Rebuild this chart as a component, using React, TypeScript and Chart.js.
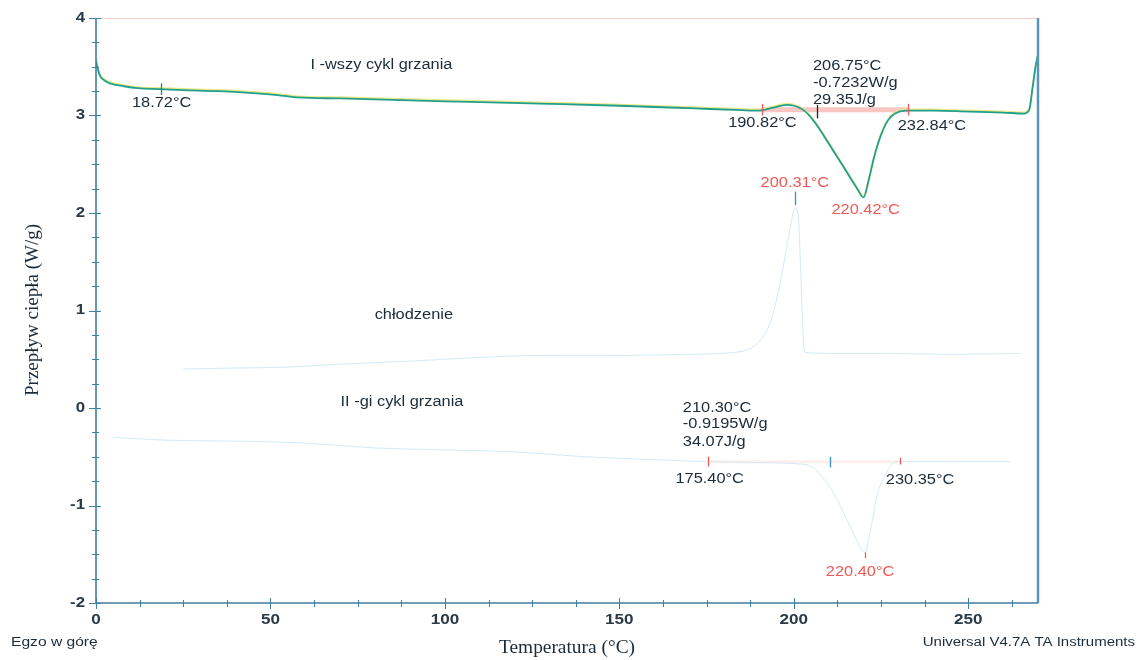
import React, { useEffect, useRef } from 'react';
import { Chart, registerables } from 'chart.js';
Chart.register(...registerables);

// First heating cycle (I-wszy cykl grzania)
const heat1T = [0, 0.5, 1, 2, 4, 8, 12, 18, 25, 35, 45, 52, 58, 70, 85, 100, 113, 130, 150, 170, 185, 190, 194, 198, 200, 203, 206, 209, 212, 215, 218, 220, 221.5, 223, 225, 227, 229, 232, 240, 250, 260, 266, 267.5, 268.5, 269.3, 270];
const heat1W = [3.56, 3.48, 3.42, 3.37, 3.33, 3.30, 3.28, 3.27, 3.26, 3.25, 3.23, 3.21, 3.185, 3.175, 3.16, 3.145, 3.135, 3.12, 3.10, 3.075, 3.055, 3.05, 3.08, 3.11, 3.10, 3.05, 2.93, 2.77, 2.60, 2.43, 2.26, 2.16, 2.34, 2.57, 2.80, 2.95, 3.02, 3.05, 3.05, 3.04, 3.03, 3.02, 3.06, 3.3, 3.5, 3.62];

// Cooling (chłodzenie)
const coolT = [25, 40, 55, 70, 90, 110, 130, 150, 170, 183, 188, 191, 193, 195, 197, 199, 200.3, 201.2, 202, 202.6, 203.2, 210, 225, 245, 265];
const coolW = [0.40, 0.41, 0.42, 0.45, 0.48, 0.52, 0.54, 0.54, 0.55, 0.57, 0.62, 0.72, 0.85, 1.1, 1.45, 1.85, 2.05, 2.0, 1.4, 0.8, 0.57, 0.56, 0.56, 0.55, 0.56];

// Second heating cycle (II-gi cykl grzania)
const heat2T = [5, 20, 40, 60, 80, 100, 120, 140, 160, 175, 190, 200, 205, 208, 211, 214, 217, 220.4, 222, 224, 226, 228, 230, 245, 262];
const heat2W = [-0.30, -0.33, -0.34, -0.36, -0.41, -0.43, -0.45, -0.50, -0.53, -0.55, -0.56, -0.57, -0.60, -0.70, -0.85, -1.05, -1.28, -1.48, -1.25, -0.88, -0.70, -0.58, -0.55, -0.55, -0.55];

// Axis ticks
const xTicks = [0, 50, 100, 150, 200, 250];
const yTicks = [-2, -1, 0, 1, 2, 3, 4];

// Annotation texts (placed in data coordinates)
const noteTexts = ['I -wszy cykl grzania', '18.72°C', '206.75°C', '-0.7232W/g', '29.35J/g', '190.82°C', '232.84°C', '200.31°C', '220.42°C', 'chłodzenie', 'II -gi cykl grzania', '210.30°C', '-0.9195W/g', '34.07J/g', '175.40°C', '230.35°C', '220.40°C'];
const noteT = [81.8, 18.8, 205.5, 205.5, 205.5, 191, 239.6, 200.3, 220.6, 91.1, 87.7, 168.2, 168.2, 168.2, 175.9, 236.2, 219];
const noteW = [3.52, 3.13, 3.51, 3.33, 3.16, 2.92, 2.89, 2.31, 2.03, 0.95, 0.06, 0.0, -0.17, -0.35, -0.73, -0.74, -1.68];
const noteAlign = ['center', 'center', 'left', 'left', 'left', 'center', 'center', 'center', 'center', 'center', 'center', 'left', 'left', 'left', 'center', 'center', 'center'];
const noteRed = [false, false, false, false, false, false, false, true, true, false, false, false, false, false, false, false, true];

// Marker ticks: temperature, W from, W to, kind
const markT = [18.72, 190.82, 206.75, 232.84, 200.31, 175.40, 210.30, 230.35, 220.40];
const markW1 = [3.33, 3.12, 3.11, 3.12, 2.22, -0.50, -0.50, -0.51, -1.48];
const markW2 = [3.21, 3.00, 2.97, 3.00, 2.08, -0.60, -0.61, -0.58, -1.54];
const markKind = ['teal', 'red', 'dark', 'red', 'blue', 'red', 'blue', 'red', 'red'];

// Integration baselines
const base1 = [190.82, 232.84, 3.06];
const base2 = [175.40, 230.35, -0.55];

const DARK = '#1b2b38';
const RED = '#ee5a55';
const AXIS = '#3f7fa0';
const SANS = '"Liberation Sans", Arial, sans-serif';
const SERIF = '"Liberation Serif", "Times New Roman", serif';

const pts = (t: number[], w: number[]) => t.map((x, i) => ({ x, y: w[i] }));

function sText(ctx: CanvasRenderingContext2D, txt: string, x: number, y: number, align: CanvasTextAlign, sx: number) {
  ctx.save();
  ctx.translate(x, y);
  ctx.scale(sx, 1);
  ctx.textAlign = align;
  ctx.fillText(txt, 0, 0);
  ctx.restore();
}

const overlay = {
  id: 'overlay',
  beforeDraw(chart: any) {
    const { ctx, width, height } = chart;
    ctx.save();
    ctx.fillStyle = '#ffffff';
    ctx.fillRect(0, 0, width, height);
    ctx.restore();
  },
  beforeDatasetsDraw(chart: any) {
    const { ctx, scales } = chart;
    const xs = scales.x, ys = scales.y;
    ctx.save();
    ctx.lineCap = 'butt';
    ctx.strokeStyle = 'rgba(240,120,110,0.42)';
    ctx.lineWidth = 5;
    ctx.beginPath();
    ctx.moveTo(xs.getPixelForValue(base1[0]), ys.getPixelForValue(base1[2]));
    ctx.lineTo(xs.getPixelForValue(base1[1]), ys.getPixelForValue(base1[2]));
    ctx.stroke();
    ctx.strokeStyle = 'rgba(240,120,110,0.12)';
    ctx.lineWidth = 3;
    ctx.beginPath();
    ctx.moveTo(xs.getPixelForValue(base2[0]), ys.getPixelForValue(base2[2]));
    ctx.lineTo(xs.getPixelForValue(base2[1]), ys.getPixelForValue(base2[2]));
    ctx.stroke();
    ctx.restore();
  },
  afterDatasetsDraw(chart: any) {
    const { ctx, chartArea: a, scales } = chart;
    const xs = scales.x, ys = scales.y;
    ctx.save();
    // frame
    ctx.strokeStyle = '#f0cfc6';
    ctx.lineWidth = 1;
    ctx.beginPath();
    ctx.moveTo(a.left, a.top + 0.5);
    ctx.lineTo(a.right, a.top + 0.5);
    ctx.stroke();
    ctx.strokeStyle = '#5b96b8';
    ctx.lineWidth = 2.5;
    ctx.beginPath();
    ctx.moveTo(a.right, a.top);
    ctx.lineTo(a.right, a.bottom);
    ctx.stroke();
    ctx.strokeStyle = AXIS;
    ctx.lineWidth = 1.6;
    ctx.beginPath();
    ctx.moveTo(a.left, a.top);
    ctx.lineTo(a.left, a.bottom);
    ctx.lineTo(a.right, a.bottom);
    ctx.stroke();
    // ticks
    ctx.lineWidth = 1;
    ctx.strokeStyle = AXIS;
    for (let v = xs.min; v <= xs.max + 1e-6; v += 12.5) {
      const px = Math.round(xs.getPixelForValue(v)) + 0.5;
      const major = Math.abs(v % 50) < 1e-6;
      ctx.beginPath();
      ctx.moveTo(px, a.bottom - (major ? 5 : 3));
      ctx.lineTo(px, a.bottom + (major ? 6 : 4));
      ctx.stroke();
    }
    for (let v = ys.min; v <= ys.max + 1e-6; v += 0.25) {
      const py = Math.round(ys.getPixelForValue(v)) + 0.5;
      const major = Math.abs(v - Math.round(v)) < 1e-6;
      ctx.beginPath();
      ctx.moveTo(a.left - (major ? 7 : 4), py);
      ctx.lineTo(a.left + (major ? 5 : 3), py);
      ctx.stroke();
    }
    // tick labels
    ctx.fillStyle = '#2a3a46';
    ctx.textBaseline = 'middle';
    ctx.font = `bold 14px ${SANS}`;
    xTicks.forEach((v) => sText(ctx, String(v), xs.getPixelForValue(v), a.bottom + 17, 'center', 1.22));
    yTicks.forEach((v) => sText(ctx, String(v), a.left - 11, ys.getPixelForValue(v), 'right', 1.2));
    // marker ticks
    markT.forEach((t, i) => {
      const k = markKind[i];
      ctx.strokeStyle = k === 'red' ? RED : k === 'blue' ? '#3a8fc0' : k === 'teal' ? '#2a7f8f' : '#222';
      ctx.lineWidth = 1.3;
      const px = Math.round(xs.getPixelForValue(t)) + 0.5;
      ctx.beginPath();
      ctx.moveTo(px, ys.getPixelForValue(markW1[i]));
      ctx.lineTo(px, ys.getPixelForValue(markW2[i]));
      ctx.stroke();
    });
    // notes
    ctx.font = `14px ${SANS}`;
    noteTexts.forEach((txt, i) => {
      ctx.fillStyle = noteRed[i] ? RED : DARK;
      sText(ctx, txt, xs.getPixelForValue(noteT[i]), ys.getPixelForValue(noteW[i]), noteAlign[i] as CanvasTextAlign, 1.17);
    });
    // axis titles and footer
    ctx.fillStyle = DARK;
    ctx.font = `19px ${SERIF}`;
    sText(ctx, 'Temperatura (°C)', (a.left + a.right) / 2, 648, 'center', 1.02);
    ctx.save();
    ctx.translate(33, 310);
    ctx.rotate(-Math.PI / 2);
    ctx.textAlign = 'center';
    ctx.font = `19px ${SERIF}`;
    ctx.fillText('Przepływ ciepła (W/g)', 0, 0);
    ctx.restore();
    ctx.font = `12px ${SANS}`;
    sText(ctx, 'Egzo w górę', 11, 643, 'left', 1.3);
    sText(ctx, 'Universal V4.7A TA Instruments', 1135, 643, 'right', 1.25);
    ctx.restore();
  },
};

export default function App() {
  const ref = useRef<HTMLCanvasElement | null>(null);
  useEffect(() => {
    if (!ref.current) return;
    const chart = new Chart(ref.current, {
      type: 'line',
      data: {
        datasets: [
          { data: pts(heat1T, heat1W), borderColor: '#20a08c', borderWidth: 1.8, pointRadius: 0, cubicInterpolationMode: 'monotone' },
          { data: pts(heat1T, heat1W.map((v) => v + 0.012)), borderColor: '#ece88a', borderWidth: 1.8, pointRadius: 0, cubicInterpolationMode: 'monotone' },
          { data: pts(coolT, coolW), borderColor: '#d4e9f5', borderWidth: 1, pointRadius: 0, cubicInterpolationMode: 'monotone' },
          { data: pts(heat2T, heat2W), borderColor: '#d4e9f5', borderWidth: 1, pointRadius: 0, cubicInterpolationMode: 'monotone' },
        ],
      },
      options: {
        responsive: false,
        animation: false,
        devicePixelRatio: 1,
        layout: { padding: { left: 0, top: 18, right: 106, bottom: 0 } },
        plugins: { legend: { display: false }, tooltip: { enabled: false } },
        scales: {
          x: {
            type: 'linear',
            min: 0,
            max: 270,
            afterBuildTicks: (s: any) => { s.ticks = xTicks.map((v) => ({ value: v })); },
            afterFit: (s: any) => { s.height = 57; },
            grid: { display: false, drawTicks: false },
            border: { display: false },
            ticks: { display: false },
          },
          y: {
            type: 'linear',
            min: -2,
            max: 4,
            afterBuildTicks: (s: any) => { s.ticks = yTicks.map((v) => ({ value: v })); },
            afterFit: (s: any) => { s.width = 96; },
            grid: { display: false, drawTicks: false },
            border: { display: false },
            ticks: { display: false },
          },
        },
      },
      plugins: [overlay],
    } as any);
    return () => chart.destroy();
  }, []);
  return (
    <div style={{ position: 'fixed', left: 0, top: 0, width: 1144, height: 660, background: '#fff' }}>
      <canvas ref={ref} width={1144} height={660} style={{ display: 'block' }} />
    </div>
  );
}
